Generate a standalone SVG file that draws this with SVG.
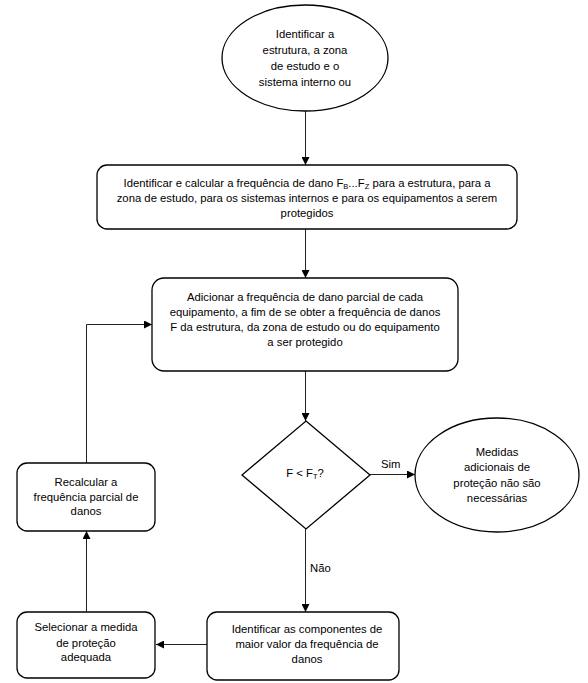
<svg xmlns="http://www.w3.org/2000/svg" width="588" height="683" viewBox="0 0 588 683">
<defs>
<marker id="arr" viewBox="0 0 10 10" refX="10" refY="5" markerWidth="8" markerHeight="8" markerUnits="userSpaceOnUse" orient="auto">
<path d="M0,0 L10,5 L0,10 z" fill="#000"/>
</marker>
</defs>
<style>
.shape{fill:#fff;stroke:#000;stroke-width:1.3}
.t{font-family:"Liberation Sans",Arial,sans-serif;font-size:11.3px;fill:#000;text-anchor:middle}
.lbl{font-family:"Liberation Sans",Arial,sans-serif;font-size:11.3px;fill:#000}
.c{fill:none;stroke:#222;stroke-width:1;marker-end:url(#arr)}
.sub{font-size:7.5px}
</style>
<rect width="588" height="683" fill="#fff"/>
<g id="connectors">
<line class="c" x1="305.5" y1="111" x2="305.5" y2="165"/>
<line class="c" x1="305.5" y1="229" x2="305.5" y2="278"/>
<line class="c" x1="305.5" y1="371" x2="305.5" y2="421"/>
<line class="c" x1="370" y1="474.5" x2="415" y2="474.5"/>
<line class="c" x1="305.5" y1="529" x2="305.5" y2="612"/>
<line class="c" x1="207" y1="644.5" x2="156" y2="644.5"/>
<line class="c" x1="86.5" y1="612" x2="86.5" y2="531"/>
<polyline class="c" points="86.5,463 86.5,324.5 152,324.5"/>
<text class="lbl" x="381" y="468">Sim</text>
<text class="lbl" x="310" y="572">Não</text>
</g>
<g id="n1">
<ellipse class="shape" cx="305" cy="58" rx="83" ry="53"/>
<text class="t" x="305" y="38">Identificar a</text>
<text class="t" x="305" y="54">estrutura, a zona</text>
<text class="t" x="305" y="70">de estudo e o</text>
<text class="t" x="305" y="86">sistema interno ou</text>
</g>
<g id="n2">
<rect class="shape" x="97" y="165" width="420" height="64" rx="10"/>
<text class="t" x="307" y="187">Identificar e calcular a frequência de dano F<tspan class="sub" dy="2">B</tspan><tspan dy="-2">...F</tspan><tspan class="sub" dy="2">Z</tspan><tspan dy="-2"> para a estrutura, para a</tspan></text>
<text class="t" x="307" y="202">zona de estudo, para os sistemas internos e para os equipamentos a serem</text>
<text class="t" x="307" y="217">protegidos</text>
</g>
<g id="n3">
<rect class="shape" x="152" y="278" width="306" height="93" rx="12"/>
<text class="t" x="305" y="301">Adicionar a frequência de dano parcial de cada</text>
<text class="t" x="305" y="316">equipamento, a fim de se obter a frequência de danos</text>
<text class="t" x="305" y="331">F da estrutura, da zona de estudo ou do equipamento</text>
<text class="t" x="305" y="346">a ser protegido</text>
</g>
<g id="n4">
<polygon class="shape" points="306,421 370,475 306,529 242,475"/>
<text class="t" x="305" y="477">F &lt; F<tspan class="sub" dy="2">T</tspan><tspan dy="-2">?</tspan></text>
</g>
<g id="n5">
<ellipse class="shape" cx="497" cy="475" rx="82" ry="57"/>
<text class="t" x="497" y="456">Medidas</text>
<text class="t" x="497" y="471">adicionais de</text>
<text class="t" x="497" y="487">proteção não são</text>
<text class="t" x="497" y="502">necessárias</text>
</g>
<g id="n6">
<rect class="shape" x="207" y="612" width="192" height="68" rx="10"/>
<text class="t" x="307" y="633">Identificar as componentes de</text>
<text class="t" x="307" y="648">maior valor da frequência de</text>
<text class="t" x="307" y="663">danos</text>
</g>
<g id="n7">
<rect class="shape" x="17" y="612" width="138" height="66" rx="10"/>
<text class="t" x="86" y="631">Selecionar a medida</text>
<text class="t" x="86" y="647">de proteção</text>
<text class="t" x="86" y="661">adequada</text>
</g>
<g id="n8">
<rect class="shape" x="17" y="463" width="138" height="68" rx="10"/>
<text class="t" x="86" y="486">Recalcular a</text>
<text class="t" x="86" y="501">frequência parcial de</text>
<text class="t" x="86" y="515">danos</text>
</g>
</svg>
